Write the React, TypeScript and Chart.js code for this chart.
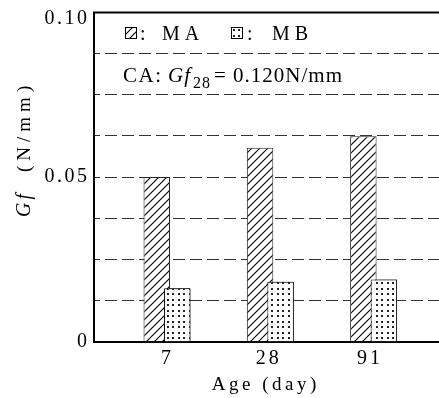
import React, { useEffect, useRef } from 'react';
import { Chart, registerables } from 'chart.js';

Chart.register(...registerables);

const categories = ['7', '28', '91'];
const maValues = [0.05, 0.0589, 0.0624];
const mbValues = [0.0162, 0.0182, 0.0189];
const yLabelValues = [0, 0.05, 0.1];
const yLabelTexts = ['0', '0.05', '0.10'];
const seriesNames = ['MA', 'MB'];
const noteText = 'CA:';
const noteValue = '= 0.120N/mm';

const SERIF = '"Liberation Serif", "Times New Roman", serif';

function makeHatch(ctx: CanvasRenderingContext2D) {
  const s = 8;
  const c = document.createElement('canvas');
  c.width = s;
  c.height = s;
  const g = c.getContext('2d')!;
  g.fillStyle = '#fff';
  g.fillRect(0, 0, s, s);
  g.strokeStyle = '#000';
  g.lineWidth = 1.1;
  g.beginPath();
  g.moveTo(-2, s + 2);
  g.lineTo(s + 2, -2);
  g.moveTo(-2, 2);
  g.lineTo(2, -2);
  g.moveTo(s - 2, s + 2);
  g.lineTo(s + 2, s - 2);
  g.stroke();
  return ctx.createPattern(c, 'repeat')!;
}

function makeDots(ctx: CanvasRenderingContext2D) {
  const s = 11;
  const c = document.createElement('canvas');
  c.width = s;
  c.height = s;
  const g = c.getContext('2d')!;
  g.fillStyle = '#fff';
  g.fillRect(0, 0, s, s);
  g.fillStyle = '#222';
  [0, 5].forEach((dx) =>
    [0, 5].forEach((dy) => {
      g.fillRect(dx + 2, dy + 2, 2, 2);
    })
  );
  return ctx.createPattern(c, 'repeat')!;
}

function drawText(
  ctx: any,
  s: string,
  x: number,
  y: number,
  font: string,
  spacing: number,
  align: CanvasTextAlign = 'left',
  baseline: CanvasTextBaseline = 'alphabetic'
) {
  ctx.save();
  ctx.font = font;
  ctx.letterSpacing = spacing + 'px';
  ctx.fillStyle = '#000';
  ctx.textBaseline = baseline;
  let xx = x;
  const w = ctx.measureText(s).width;
  if (align === 'right') xx = x - w + spacing;
  else if (align === 'center') xx = x - (w - spacing) / 2;
  ctx.textAlign = 'left';
  ctx.fillText(s, xx, y);
  ctx.restore();
}

export default function App() {
  const ref = useRef<HTMLCanvasElement>(null);

  useEffect(() => {
    const canvas = ref.current!;
    const ctx = canvas.getContext('2d')!;
    const hatch = makeHatch(ctx);
    const dots = makeDots(ctx);

    const overlay = {
      id: 'overlay',
      afterDatasetsDraw(chart: any) {
        const c = chart.ctx;
        const meta = chart.getDatasetMeta(1);
        meta.data.forEach((el: any) => el.draw(c));
      },
      afterDraw(chart: any) {
        const c = chart.ctx as CanvasRenderingContext2D;
        const { left, right, top } = chart.chartArea;
        const ys = chart.scales.y;
        const xs = chart.scales.x;
        // top frame line
        c.save();
        c.strokeStyle = '#000';
        c.lineWidth = 2;
        c.beginPath();
        c.moveTo(left - 1, top);
        c.lineTo(right, top);
        c.stroke();
        c.restore();

        // y tick labels
        yLabelValues.forEach((v, i) => {
          const py = Math.max(ys.getPixelForValue(v), 19);
          drawText(c, yLabelTexts[i], 87, py, '20px ' + SERIF, 2.5, 'right', 'middle');
        });
        // x tick labels
        categories.forEach((lab, i) => {
          const px = xs.getPixelForValue(i);
          drawText(c, lab, px - 1 - i * 2, 359, '20px ' + SERIF, 3, 'center', 'middle');
        });
        // x title
        drawText(c, 'Age (day)', 264, 385, '19px ' + SERIF, 3.5, 'center', 'middle');

        // y title (rotated)
        c.save();
        c.translate(25, 217);
        c.rotate(-Math.PI / 2);
        c.fillStyle = '#000';
        c.textBaseline = 'middle';
        c.textAlign = 'left';
        c.font = 'italic 20px ' + SERIF;
        (c as any).letterSpacing = '3px';
        c.fillText('Gf', 0, 0);
        c.font = '19px ' + SERIF;
        (c as any).letterSpacing = '5px';
        c.fillText('(N/mm)', 45, 0);
        c.restore();

        // legend
        const boxes = [
          { x: 125, pat: hatch, name: seriesNames[0], cx: 140, tx: 162 },
          { x: 231, pat: dots, name: seriesNames[1], cx: 247, tx: 272 },
        ];
        boxes.forEach((b) => {
          c.save();
          c.fillStyle = b.pat;
          c.fillRect(b.x, 27, 12, 12);
          c.strokeStyle = '#000';
          c.lineWidth = 1;
          c.strokeRect(b.x + 0.5, 27.5, 11, 11);
          c.restore();
          drawText(c, ':', b.cx, 39.5, '20px ' + SERIF, 0);
          drawText(c, b.name, b.tx, 39.5, '20px ' + SERIF, 5);
        });

        // CA note
        drawText(c, noteText, 123, 82, '21px ' + SERIF, 1.5);
        drawText(c, 'Gf', 168, 82, 'italic 21px ' + SERIF, 1);
        drawText(c, '28', 193, 88, '16px ' + SERIF, 1);
        drawText(c, noteValue, 214, 82, '21px ' + SERIF, 1);
      },
    };

    const chart = new Chart(canvas, {
      type: 'bar',
      data: {
        datasets: [
          {
            label: seriesNames[0],
            data: maValues.map((v, i) => ({ x: i, y: v })),
            backgroundColor: hatch,
            borderColor: '#222',
            borderWidth: 1,
            borderSkipped: 'start',
            categoryPercentage: 0.397,
            barPercentage: 1.29,
          },
          {
            label: seriesNames[1],
            data: mbValues.map((v, i) => ({ x: i, y: v })),
            backgroundColor: dots,
            borderColor: '#111',
            borderWidth: 1,
            borderSkipped: 'start',
            categoryPercentage: 0.397,
            barPercentage: 1.29,
          },
        ],
      },
      options: {
        animation: false,
        responsive: false,
        devicePixelRatio: 1,
        layout: { padding: { left: 94, top: 12.5, right: 0, bottom: 56.3 } },
        plugins: { legend: { display: false }, tooltip: { enabled: false } },
        scales: {
          x: {
            type: 'linear',
            offset: false,
            min: -0.7067,
            max: 2.633,
            afterBuildTicks: (scale: any) => {
              scale.ticks = categories.map((_, i) => ({ value: i }));
            },
            ticks: { display: false },
            grid: { display: false, drawTicks: false },
            border: { display: true, color: '#000', width: 2 },
          },
          y: {
            min: 0,
            max: 0.1,
            ticks: { display: false, stepSize: 0.0125 },
            grid: { color: '#333', lineWidth: 1, drawTicks: false },
            border: { display: true, color: '#000', width: 2, dash: [12, 5], dashOffset: 7 },
          },
        },
      },
      plugins: [overlay],
    } as any);

    return () => chart.destroy();
  }, []);

  return (
    <div style={{ position: 'fixed', left: 0, top: 0, width: 439, height: 398, background: '#fff' }}>
      <canvas ref={ref} width={439} height={398} style={{ width: 439, height: 398, display: 'block' }} />
    </div>
  );
}
